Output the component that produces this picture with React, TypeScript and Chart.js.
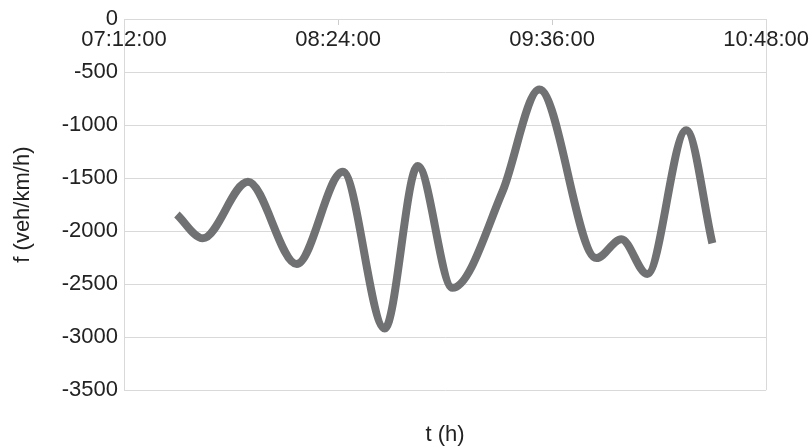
import React, { useEffect, useRef } from "react";
import { Chart, registerables } from "chart.js";

Chart.register(...registerables);

// Sample clock times and values of f (veh/km/h)
const sampleTimes = [
  "07:29:48", "07:38:30", "07:53:42", "08:10:06", "08:25:36",
  "08:39:42", "08:50:48", "09:02:30", "09:19:18", "09:31:42",
  "09:50:54", "09:59:18", "10:08:00", "10:21:06", "10:29:54",
];
const fValues = [
  -1843, -2068, -1535, -2311, -1441,
  -2920, -1385, -2536, -1628, -664,
  -2255, -2077, -2405, -1048, -2115,
];
const xTickLabels = ["07:12:00", "08:24:00", "09:36:00", "10:48:00"];
const yMin = -3500;
const yMax = 0;
const yStep = 500;

const toMin = (s: string) => {
  const [h, m, sec] = s.split(":").map(Number);
  return h * 60 + m + (sec || 0) / 60;
};
const xStart = toMin(xTickLabels[0]);
const xEnd = toMin(xTickLabels[xTickLabels.length - 1]);
const xStep = toMin(xTickLabels[1]) - xStart;

const fmt = (v: number) => {
  const total = Math.round((v + xStart) * 60);
  const h = Math.floor(total / 3600);
  const m = Math.floor((total % 3600) / 60);
  const s = total % 60;
  const p = (n: number) => String(n).padStart(2, "0");
  return `${p(h)}:${p(m)}:${p(s)}`;
};

const FONT = "'Liberation Sans', Arial, sans-serif";
const GRID = "#d9d9d9";
const TEXT = "#222222";

const frameRight = {
  id: "frameRight",
  afterDatasetsDraw(chart: any) {
    const { ctx, chartArea } = chart;
    ctx.save();
    ctx.strokeStyle = GRID;
    ctx.lineWidth = 1;
    ctx.beginPath();
    ctx.moveTo(Math.round(chartArea.right) + 0.5, chartArea.top);
    ctx.lineTo(Math.round(chartArea.right) + 0.5, chartArea.bottom);
    ctx.stroke();
    ctx.restore();
  },
};

export default function App() {
  const ref = useRef<HTMLCanvasElement | null>(null);
  useEffect(() => {
    if (!ref.current) return;
    const data = sampleTimes.map((t, i) => ({ x: toMin(t) - xStart, y: fValues[i] }));
    const chart = new Chart(ref.current, {
      type: "line",
      data: {
        datasets: [
          {
            data,
            xAxisID: "x",
            yAxisID: "y",
            borderColor: "#707173",
            borderWidth: 8,
            pointRadius: 0,
            borderCapStyle: "butt",
            borderJoinStyle: "round",
            cubicInterpolationMode: "monotone",
            fill: false,
          },
        ],
      },
      options: {
        animation: false,
        responsive: false,
        layout: { padding: { left: 0, right: 45, top: 16, bottom: 0 } },
        plugins: { legend: { display: false }, tooltip: { enabled: false } },
        scales: {
          x: {
            type: "linear",
            position: { y: 0 } as any,
            min: 0,
            max: xEnd - xStart,
            ticks: {
              stepSize: xStep,
              autoSkip: false,
              maxRotation: 0,
              padding: 3,
              color: TEXT,
              font: { family: FONT, size: 22 },
              callback: (v: any) => fmt(Number(v)),
            },
            grid: { drawOnChartArea: false, drawTicks: true, tickLength: 5, color: "#cccccc" },
            border: { display: true, color: GRID },
          },
          x2: {
            type: "linear",
            position: "bottom",
            min: 0,
            max: xEnd - xStart,
            ticks: { display: false },
            grid: { display: false },
            border: { display: false },
            title: {
              display: true,
              text: "t (h)",
              color: TEXT,
              font: { family: FONT, size: 22 },
              padding: { top: 0, bottom: 0 },
            },
            afterFit: (s: any) => {
              s.height = 58;
            },
          },
          y: {
            type: "linear",
            position: "left",
            min: yMin,
            max: yMax,
            ticks: {
              stepSize: yStep,
              padding: 6,
              color: TEXT,
              font: { family: FONT, size: 22 },
              callback: (v: any) => String(v),
            },
            grid: { color: GRID, drawTicks: false },
            border: { display: true, color: GRID },
            title: {
              display: true,
              text: "f (veh/km/h)",
              color: TEXT,
              font: { family: FONT, size: 22 },
              padding: { top: 10, bottom: 0 },
            },
            afterFit: (s: any) => {
              s.width = 124;
            },
          },
        },
      },
      plugins: [frameRight],
    } as any);
    return () => chart.destroy();
  }, []);
  return (
    <div style={{ position: "absolute", left: 0, top: 0, width: 812, height: 448, background: "#fff" }}>
      <canvas ref={ref} width={812} height={448} style={{ display: "block" }} />
    </div>
  );
}
